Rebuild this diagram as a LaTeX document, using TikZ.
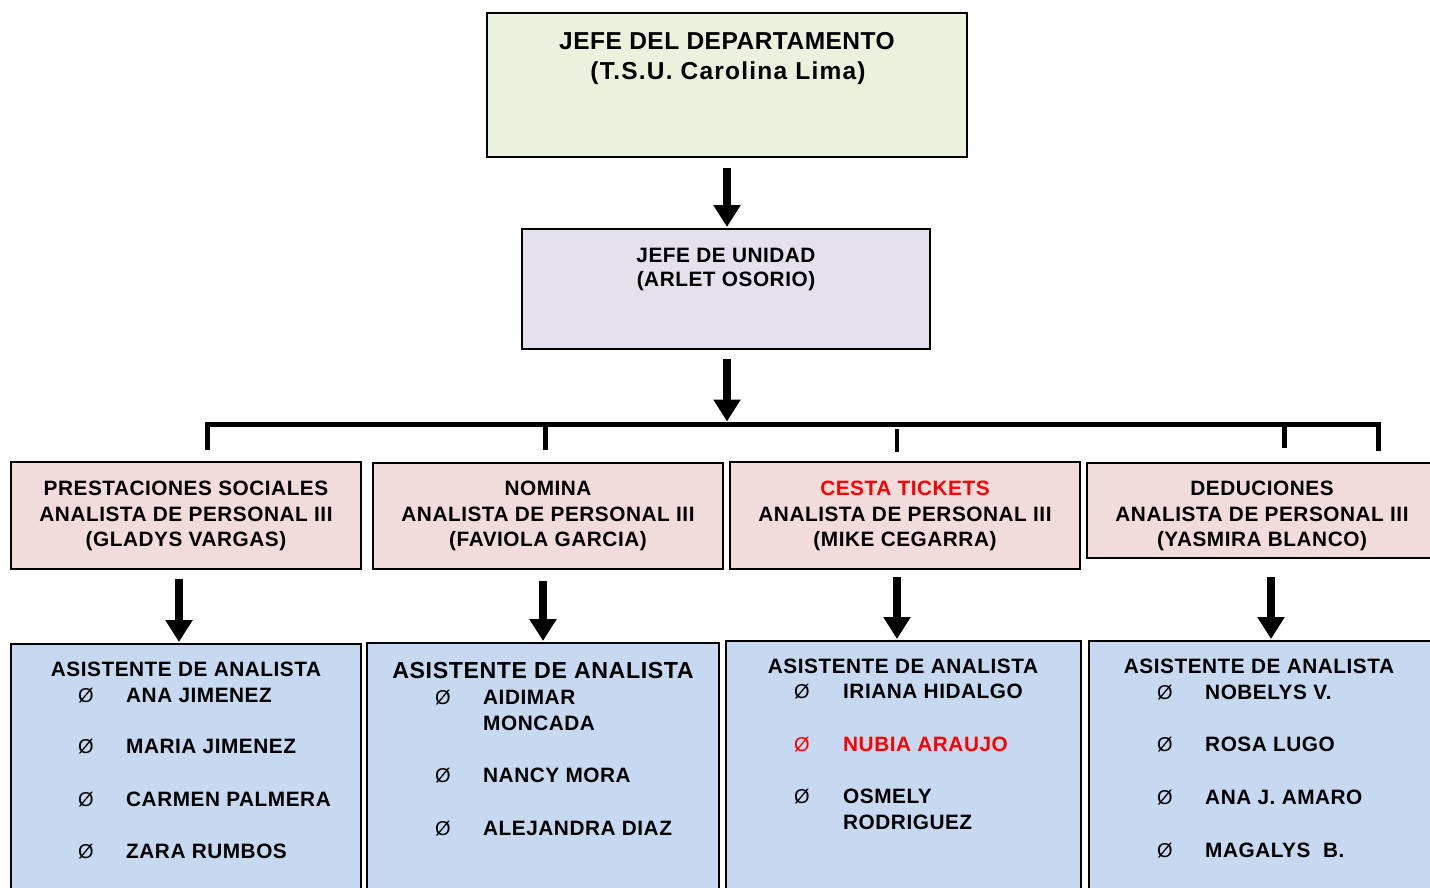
\documentclass[tikz,border=0pt]{standalone}
\usepackage{fontspec}
\setmainfont{Liberation Sans}
\newfontfamily\bodyfont{Liberation Sans}[LetterSpace=2.5]
\newfontfamily\topfont{Liberation Sans}[LetterSpace=2]
\newfontfamily\topfontb{Liberation Sans}[LetterSpace=5]
\newfontfamily\bulfont{Liberation Sans}
\usetikzlibrary{arrows.meta}
\definecolor{topgreen}{RGB}{234,241,221}
\definecolor{unitlilac}{RGB}{229,224,236}
\definecolor{pinkbox}{RGB}{242,220,219}
\definecolor{bluebox}{RGB}{198,217,241}
\definecolor{redtxt}{RGB}{255,0,0}
\tikzset{
  box/.style={draw=black, line width=2pt, rectangle, inner sep=0pt},
  toptxt/.style={anchor=base, inner sep=0pt, font=\topfont\bfseries\fontsize{24.5}{28}\selectfont},
  toptxtb/.style={anchor=base, inner sep=0pt, font=\topfontb\bfseries\fontsize{24.5}{28}\selectfont},
  ln/.style={anchor=base, inner sep=0pt, font=\bodyfont\bfseries\fontsize{20.8}{24}\selectfont},
  hdbig/.style={anchor=base, inner sep=0pt, font=\bodyfont\bfseries\fontsize{23.2}{26}\selectfont},
  nm/.style={anchor=base west, inner sep=0pt, font=\bodyfont\bfseries\fontsize{20.8}{24}\selectfont},
  bul/.style={anchor=base, inner sep=0pt, font=\bulfont\fontsize{20}{22}\selectfont},
  arr/.style={line width=7.5pt, -{Triangle[width=26pt,length=22pt]}},
  bus/.style={line width=5pt, line join=miter, line cap=butt},
}
\begin{document}
\begin{tikzpicture}[x=1pt,y=-1pt]
\useasboundingbox (0,0) rectangle (1430,888);
\clip (0,0) rectangle (1430,888);
\fill[white] (0,0) rectangle (1430,888);

% top boxes
\node[box, fill=topgreen, minimum width=480pt, minimum height=144pt] (top) at (727,85) {};
\node[toptxt] (top1) at (727,50) {JEFE DEL DEPARTAMENTO};
\node[toptxtb] (top2) at (728,80) {(T.S.U. Carolina Lima)};

\node[box, fill=unitlilac, minimum width=408pt, minimum height=120pt] (unit) at (726,289) {};
\node[ln] (unit1) at (726,262) {JEFE DE UNIDAD};
\node[ln] (unit2) at (726,286) {(ARLET OSORIO)};

% pink boxes
\node[box, fill=pinkbox, minimum width=350pt, minimum height=107pt] (pa) at (186,515.5) {};
\node[box, fill=pinkbox, minimum width=350pt, minimum height=106pt] (pb) at (548,516) {};
\node[box, fill=pinkbox, minimum width=350pt, minimum height=107pt] (pc) at (905,515.5) {};
\node[box, fill=pinkbox, minimum width=350pt, minimum height=95pt] (pd) at (1262,510.5) {};

\node[ln] (pa1) at (186,495) {PRESTACIONES SOCIALES};
\node[ln] (pa2) at (186,521) {ANALISTA DE PERSONAL III};
\node[ln] (pa3) at (186,546) {(GLADYS VARGAS)};
\node[ln] (pb1) at (548,495) {NOMINA};
\node[ln] (pb2) at (548,521) {ANALISTA DE PERSONAL III};
\node[ln] (pb3) at (548,546) {(FAVIOLA GARCIA)};
\node[ln, text=redtxt] (pc1) at (905,495) {CESTA TICKETS};
\node[ln] (pc2) at (905,521) {ANALISTA DE PERSONAL III};
\node[ln] (pc3) at (905,546) {(MIKE CEGARRA)};
\node[ln] (pd1) at (1262,495) {DEDUCIONES};
\node[ln] (pd2) at (1262,521) {ANALISTA DE PERSONAL III};
\node[ln] (pd3) at (1262,546) {(YASMIRA BLANCO)};

% blue boxes
\node[box, fill=bluebox, minimum width=350pt, minimum height=256pt] (eb) at (186,772) {};
\node[box, fill=bluebox, minimum width=352pt, minimum height=257pt] (fb) at (543,771.5) {};
\node[box, fill=bluebox, minimum width=355pt, minimum height=259pt] (gb) at (903.5,770.5) {};
\node[box, fill=bluebox, minimum width=343pt, minimum height=259pt] (hb) at (1260.5,770.5) {};

% box E
\node[ln] (eh) at (186,676) {ASISTENTE DE ANALISTA};
\node[bul] (eb1) at (86,702) {Ø};
\node[nm] (en1) at (126,702) {ANA JIMENEZ};
\node[bul] (eb2) at (86,753) {Ø};
\node[nm] (en2) at (126,753) {MARIA JIMENEZ};
\node[bul] (eb3) at (86,806) {Ø};
\node[nm] (en3) at (126,806) {CARMEN PALMERA};
\node[bul] (eb4) at (86,858) {Ø};
\node[nm] (en4) at (126,858) {ZARA RUMBOS};

% box F
\node[hdbig] (fh) at (543,678) {ASISTENTE DE ANALISTA};
\node[bul] (fb1) at (443,704) {Ø};
\node[nm] (fn1) at (483,704) {AIDIMAR};
\node[nm] (fn1b) at (483,730) {MONCADA};
\node[bul] (fb2) at (443,782) {Ø};
\node[nm] (fn2) at (483,782) {NANCY MORA};
\node[bul] (fb3) at (443,835) {Ø};
\node[nm] (fn3) at (483,835) {ALEJANDRA DIAZ};

% box G
\node[ln] (gh) at (903,673) {ASISTENTE DE ANALISTA};
\node[bul] (gb1) at (802,698) {Ø};
\node[nm] (gn1) at (843,698) {IRIANA HIDALGO};
\node[bul, text=redtxt] (gb2) at (802,751) {Ø};
\node[nm, text=redtxt] (gn2) at (843,751) {NUBIA ARAUJO};
\node[bul] (gb3) at (802,803) {Ø};
\node[nm] (gn3) at (843,803) {OSMELY};
\node[nm] (gn3b) at (843,829) {RODRIGUEZ};

% box H
\node[ln] (hh) at (1259,673) {ASISTENTE DE ANALISTA};
\node[bul] (hb1) at (1165,699) {Ø};
\node[nm] (hn1) at (1205,699) {NOBELYS V.};
\node[bul] (hb2) at (1165,751) {Ø};
\node[nm] (hn2) at (1205,751) {ROSA LUGO};
\node[bul] (hb3) at (1165,804) {Ø};
\node[nm] (hn3) at (1205,804) {ANA J. AMARO};
\node[bul] (hb4) at (1165,857) {Ø};
\node[nm] (hn4) at (1205,857) {MAGALYS\ \ B.};

% bus bar
\coordinate (busL) at (207,424);
\coordinate (busR) at (1378,424);
\coordinate (busMid) at (727,421.5);
\coordinate (tickA) at (207,450);
\coordinate (tickRend) at (1378,451);
\coordinate (tickBt) at (545,424);
\coordinate (tickBb) at (545,450);
\coordinate (tickCt) at (897,429);
\coordinate (tickCb) at (897,452);
\coordinate (tickDt) at (1284,424);
\coordinate (tickDb) at (1284,448);
\draw[bus] (tickA) -- (busL) -- (busR) -- (tickRend);
\draw[bus] (tickBt) -- (tickBb);
\draw[line width=4pt] (tickCt) -- (tickCb);
\draw[bus] (tickDt) -- (tickDb);

% arrows
\draw[arr, shorten <=10pt, shorten >=1pt] (top.south) -- (top.south |- unit.north);
\draw[arr, shorten <=9pt] (busMid |- unit.south) -- (busMid);
\draw[arr, shorten <=9pt, shorten >=1pt] ([xshift=-7pt]pa.south) -- ([xshift=-7pt]eb.north);
\draw[arr, shorten <=11pt, shorten >=1pt] ([xshift=-5pt]pb.south) -- (fb.north);
\draw[arr, shorten <=7pt, shorten >=1pt] ([xshift=-8pt]pc.south) -- ([xshift=-6.5pt]gb.north);
\draw[arr, shorten <=18pt, shorten >=1pt] ([xshift=9pt]pd.south) -- ([xshift=10.5pt]hb.north);
\end{tikzpicture}
\end{document}
